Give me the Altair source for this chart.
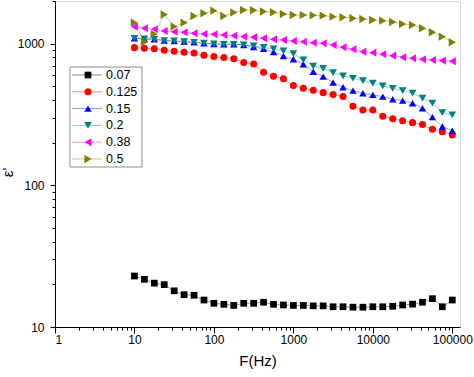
import altair as alt
import pandas as pd

# ---- data ----
freq = [10, 13.34, 17.78, 23.71, 31.62, 42.17, 56.23, 74.99,
        100, 133.4, 177.8, 237.1, 316.2, 421.7, 562.3, 749.9,
        1000, 1334, 1778, 2371, 3162, 4217, 5623, 7499,
        10000, 13335, 17783, 23714, 31623, 42170, 56234, 74989, 100000]

series_names = ["0.07", "0.125", "0.15", "0.2", "0.38", "0.5"]

eps_007 = [22.9, 21.7, 20.4, 19.9, 18.0, 16.9, 16.75, 15.5, 14.7, 14.45, 14.2,
           14.7, 14.7, 14.95, 14.45, 14.3, 14.2, 14.2, 14.1, 14.1, 13.9, 13.9,
           13.8, 13.8, 13.9, 13.9, 14.0, 14.3, 14.5, 14.95, 15.85, 13.9, 15.5]
eps_0125 = [937, 928, 920, 898, 884, 870, 860, 828, 810, 799, 782, 737, 719,
            629, 589, 566, 507, 484, 469, 451, 437, 423, 362, 340, 340, 307,
            295, 286, 277, 269, 249, 239, 227]
eps_015 = [1092, 1079, 1074, 1050, 1045, 1033, 1023, 1007, 995, 990, 990, 979,
           948, 918, 874, 819, 775, 715, 634, 585, 531, 492, 466, 447, 435,
           423, 405, 396, 380, 350, 303, 260, 243]
eps_02 = [1092, 1079, 1074, 1050, 1045, 1033, 1023, 1007, 995, 990, 990, 979,
          963, 940, 918, 888, 850, 767, 693, 670, 624, 592, 570, 548, 526,
          503, 484, 466, 447, 412, 380, 326, 314]
eps_038 = [1318, 1284, 1264, 1229, 1215, 1204, 1184, 1171, 1165, 1152, 1139,
           1121, 1110, 1092, 1074, 1062, 1045, 1030, 1016, 1007, 979, 943, 913,
           878, 864, 842, 823, 802, 789, 776, 767, 759, 751]
eps_05 = [1406, 1028, 1165, 1607, 1322, 1406, 1568, 1638, 1710, 1568, 1660,
          1729, 1720, 1687, 1666, 1620, 1594, 1594, 1585, 1576, 1550, 1535,
          1510, 1493, 1469, 1453, 1423, 1377, 1355, 1284, 1203, 1120, 1023]

all_eps = [eps_007, eps_0125, eps_015, eps_02, eps_038, eps_05]

colors = ["#000000", "#FF0000", "#0000FF", "#008080", "#FF00FF", "#808000"]
shapes = ["square", "circle", "triangle-up", "triangle-down",
          "triangle-left", "triangle-right"]
sizes = [45, 70, 80, 80, 80, 80]

rows = []
for name, vals in zip(series_names, all_eps):
    for f, v in zip(freq, vals):
        rows.append({"F": f, "eps": v, "series": name})
df = pd.DataFrame(rows)

leg_df = pd.DataFrame({"series": series_names, "row": list(range(len(series_names)))})
box_df = pd.DataFrame({"one": [1]})

xticks = [m * 10 ** d for d in range(0, 6) for m in range(1, 10) if m * 10 ** d <= 125000]
yticks = [m * 10 ** d for d in range(1, 4) for m in range(1, 10) if m * 10 ** d <= 2000]

FONT = "Liberation Sans"
is_major = "abs(log(datum.value)/LN10 - round(log(datum.value)/LN10)) < 0.001"

color_enc = alt.Color("series:N", scale=alt.Scale(domain=series_names, range=colors), legend=None)
shape_enc = alt.Shape("series:N", scale=alt.Scale(domain=series_names, range=shapes), legend=None)
size_enc = alt.Size("series:N", scale=alt.Scale(domain=series_names, range=sizes), legend=None)

x_enc = alt.X(
    "F:Q",
    scale=alt.Scale(type="log", domain=[1, 125000], nice=False),
    axis=alt.Axis(
        values=xticks, labelExpr=f"{is_major} ? format(datum.value, 'd') : ''",
        tickSize={"condition": {"test": is_major, "value": 6}, "value": 3},
        labelOverlap=False, labelPadding=1, labelFontSize=12, labelFont=FONT,
        labelColor="black", domainColor="black", tickColor="black",
        grid=False, title="F(Hz)", titleFont=FONT, titleFontSize=15,
        titleFontWeight="normal", titleColor="black", titleY=38,
        titleBaseline="alphabetic",
    ),
)
y_enc = alt.Y(
    "eps:Q",
    scale=alt.Scale(type="log", domain=[10, 2000], nice=False),
    axis=alt.Axis(
        values=yticks, labelExpr=f"{is_major} ? format(datum.value, 'd') : ''",
        tickSize={"condition": {"test": is_major, "value": 5}, "value": 3},
        labelOverlap=False, labelPadding=6, labelFontSize=12, labelFont=FONT,
        labelColor="black", domainColor="black", tickColor="black",
        grid=False, title="ε'", titleFont=FONT, titleFontSize=15,
        titleFontWeight="normal", titleColor="black", titleX=-43, titleY=171,
        titleBaseline="alphabetic",
    ),
)

base = alt.Chart(df)
lines = base.mark_line(strokeWidth=1, opacity=0.4).encode(
    x=x_enc, y=y_enc, color=color_enc, detail="series:N", order="F:Q"
)
points = base.mark_point(filled=True, opacity=1, strokeWidth=0).encode(
    x=x_enc, y=y_enc, color=color_enc, shape=shape_enc, size=size_enc
)
main = alt.layer(lines, points)

# ---- in-plot legend ----
row_y = alt.Y("row:Q", scale=alt.Scale(domain=[0, 5], range=[74, 158]), axis=None)
box = alt.Chart(box_df).mark_rect(fill="white", stroke="#8c8c8c", strokeWidth=1).encode(
    x=alt.value(15), x2=alt.value(87), y=alt.value(66), y2=alt.value(166)
)
leg_lines = alt.Chart(leg_df).mark_rule(strokeWidth=1, opacity=0.45).encode(
    x=alt.value(17), x2=alt.value(47), y=row_y, color=color_enc
)
leg_pts = alt.Chart(leg_df).mark_point(filled=True, opacity=1, strokeWidth=0).encode(
    x=alt.value(33), y=row_y, color=color_enc, shape=shape_enc, size=size_enc
)
leg_text = alt.Chart(leg_df).mark_text(
    align="left", baseline="middle", fontSize=12.5, font=FONT, color="black"
).encode(x=alt.value(51), y=row_y, text="series:N")
legend = alt.layer(box, leg_lines, leg_pts, leg_text)

chart = alt.layer(main, legend).resolve_scale(y="independent").properties(
    width=405, height=326,
    autosize=alt.AutoSizeParams(type="none"),
    padding={"left": 55, "top": 1, "right": 14, "bottom": 50},
).configure_view(stroke="black", strokeWidth=1).configure(background="white")

chart.save("out.html", embed_options={"renderer": "svg", "actions": False})
